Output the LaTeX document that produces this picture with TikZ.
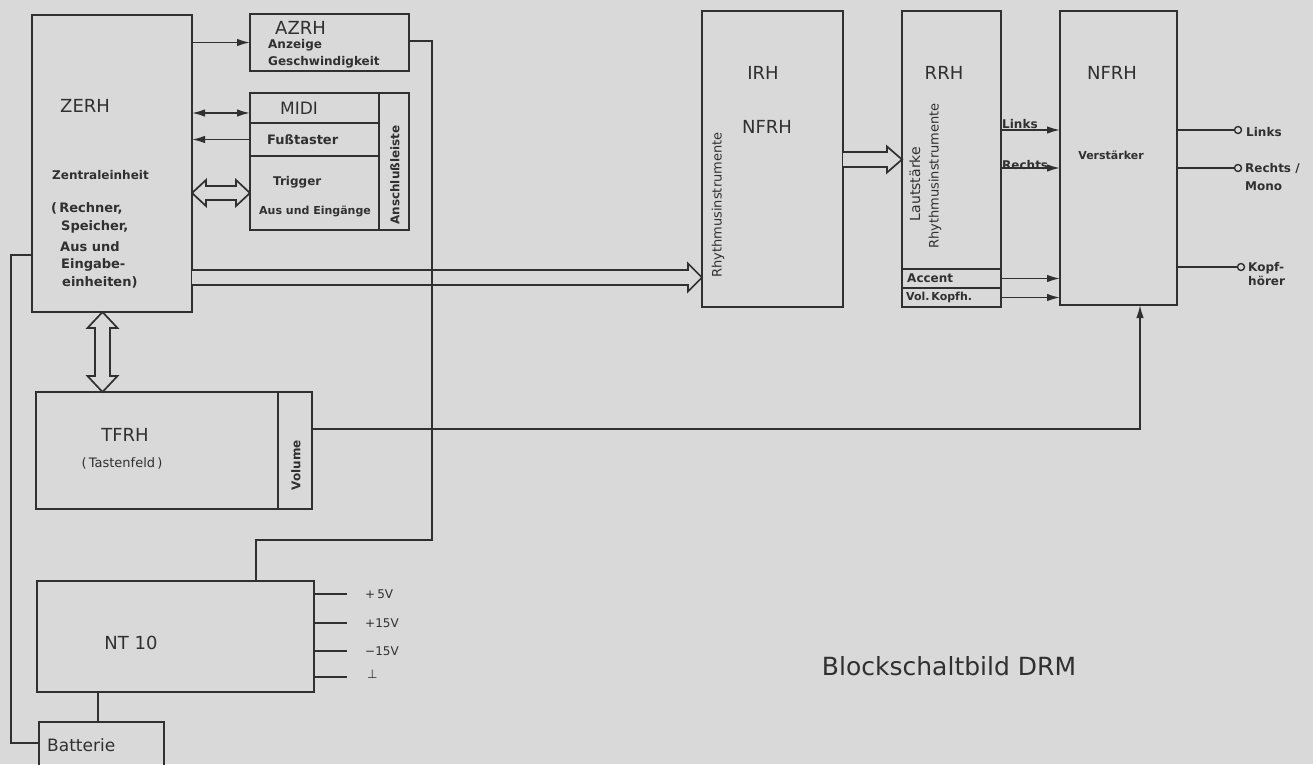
\documentclass[tikz,border=0pt]{standalone}
\usepackage{fontspec}
\setmainfont{DejaVu Sans}
\usetikzlibrary{calc,arrows.meta}
\definecolor{bg}{HTML}{D9D9D9}
\definecolor{ink}{HTML}{303030}
\newcommand\myfs[2]{\fontsize{#1}{#2}\selectfont}
\begin{document}
\begin{tikzpicture}[x=1pt,y=-1pt,
  blk/.style={draw=ink, line width=2.2pt, anchor=north west, inner sep=0pt, outer sep=0pt},
  ln/.style={draw=ink, line width=1.6pt},
  arr/.style={ln, -{Latex[length=13pt,width=7.5pt]}},
  hol/.style={draw=ink, line width=1.7pt, fill=bg, line join=miter},
  txt/.style={text=ink, inner sep=0pt},
  big/.style={txt, font=\myfs{18}{20}},
  sm/.style={txt, font=\myfs{13}{15}},
  smb/.style={txt, font=\myfs{12}{14}\bfseries},
  md/.style={txt, font=\myfs{13}{15}\bfseries},
  tiny/.style={txt, font=\myfs{12}{14}},
  term/.style={circle, draw=ink, line width=1.4pt, minimum size=7pt, inner sep=0pt, fill=bg},
]
\fill[bg] (0,0) rectangle (1313,764);
\useasboundingbox (0,0) rectangle (1313,764);

% ---------- blocks ----------
\node[blk, minimum width=160pt, minimum height=297pt] (zerh) at (32,15) {};
\node[blk, minimum width=159pt, minimum height=57pt] (azrh) at (250,14) {};
\node[blk, minimum width=129pt, minimum height=30pt] (midi) at (250,93) {};
\node[blk, minimum width=129pt, minimum height=33pt] (fuss) at (250,123) {};
\node[blk, minimum width=129pt, minimum height=74pt] (trig) at (250,156) {};
\node[blk, minimum width=30pt, minimum height=137pt] (ansch) at (379,93) {};
\node[blk, minimum width=141pt, minimum height=296pt] (irh) at (702,11) {};
\node[blk, minimum width=99pt, minimum height=258pt] (rrh) at (902,11) {};
\node[blk, minimum width=99pt, minimum height=19pt] (acc) at (902,269) {};
\node[blk, minimum width=99pt, minimum height=19pt] (volk) at (902,288) {};
\node[blk, minimum width=117pt, minimum height=294pt] (nfrh) at (1060,11) {};
\node[blk, minimum width=242pt, minimum height=117pt] (tfrh) at (36,392) {};
\node[blk, minimum width=34pt, minimum height=117pt] (volb) at (278,392) {};
\node[blk, minimum width=277pt, minimum height=111pt] (nt10) at (37,581) {};
\node[blk, minimum width=125pt, minimum height=52pt] (batt) at (39,722) {};

% ---------- texts ----------
\node[big, anchor=west] (tzerh) at (60,106) {ZERH};
\node[smb, anchor=west] (tz1) at (52,175) {Zentraleinheit};
\node[md, anchor=west] (tz2) at (51,208) {(\,Rechner,};
\node[md, anchor=west] (tz3) at (61,227) {Speicher,};
\node[md, anchor=west] (tz4) at (60,247) {Aus und};
\node[md, anchor=west] (tz5) at (61,265) {Eingabe-};
\node[md, anchor=west] (tz6) at (62,282) {einheiten)};

\node[big, anchor=west] (tazrh) at (275,28) {AZRH};
\node[smb, anchor=west] (taz1) at (268,45) {Anzeige};
\node[smb, anchor=west] (taz2) at (268,62) {Geschwindigkeit};
\node[txt, font=\myfs{17}{19}] (tmidi) at (299,108) {MIDI};
\node[md, anchor=west] (tfuss) at (267,140) {Fußtaster};
\node[smb, anchor=west] (ttrig) at (273,182) {Trigger};
\node[txt, font=\myfs{11}{13}\bfseries, anchor=west] (taus) at (259,211) {Aus und Eingänge};
\node[smb, rotate=90] (tansch) at (395,175) {Anschlußleiste};

\node[big] (tirh) at (763,73) {IRH};
\node[big] (tirh2) at (767,127) {NFRH};
\node[sm, rotate=90] (tirh3) at (718,205) {Rhythmusinstrumente};

\node[big] (trrh) at (944,73) {RRH};
\node[txt, font=\myfs{14}{16}, rotate=90] (trr1) at (915,184) {Lautstärke};
\node[sm, rotate=90] (trr2) at (935,176) {Rhythmusinstrumente};
\node[smb, anchor=west] (tacc) at (907,278) {Accent};
\node[txt, font=\myfs{11}{13}\bfseries, anchor=west] (tvol) at (906,297.5) {Vol.\,Kopfh.};

\node[big] (tnfrh) at (1112,73) {NFRH};
\node[txt, font=\myfs{11}{13}\bfseries] (tverst) at (1111,155) {Verstärker};

\node[big] (ttfrh) at (125,435) {TFRH};
\node[sm] (ttast) at (122,463) {(\,Tastenfeld\,)};
\node[smb, rotate=90] (tvolb) at (296,465) {Volume};

\node[big] (tnt) at (131,643) {NT 10};
\node[txt, font=\myfs{17}{19}, anchor=west] (tbatt) at (47,745) {Batterie};

\node[txt, font=\myfs{25}{28}] (title) at (949,666) {Blockschaltbild DRM};

% ---------- ZERH side connectors ----------
\draw[arr] (zerh.east |- azrh.west) -- (azrh.west);
\coordinate (mi) at ($(midi.west)+(0,5)$);
\draw[ln, {Latex[length=13pt,width=7.5pt]}-{Latex[length=13pt,width=7.5pt]}] (zerh.east |- mi) -- (mi);
\draw[arr] (fuss.west) -- (zerh.east |- fuss.west);

% hollow double arrow ZERH <-> Trigger
\coordinate (ta) at (zerh.east |- trig.west);
\coordinate (tb) at (trig.west);
\draw[hol] (ta) -- ($(ta)+(14,-13)$) -- ($(ta)+(14,-7)$) -- ($(tb)+(-14,-7)$) -- ($(tb)+(-14,-13)$) -- (tb)
  -- ($(tb)+(-14,13)$) -- ($(tb)+(-14,7)$) -- ($(ta)+(14,7)$) -- ($(ta)+(14,13)$) -- cycle;

% hollow arrow ZERH -> IRH
\coordinate (zi1) at ($(zerh.south east)+(0,-34.5)$);
\coordinate (zi2) at (irh.west |- zi1);
\draw[hol] ($(zi1)+(0,-7.5)$) -- ($(zi2)+(-14,-7.5)$) -- ($(zi2)+(-14,-14)$) -- (zi2)
  -- ($(zi2)+(-14,14)$) -- ($(zi2)+(-14,7.5)$) -- ($(zi1)+(0,7.5)$);

% hollow arrow IRH -> RRH
\coordinate (ir1) at ($(irh.east)+(0,0.5)$);
\coordinate (ir2) at (rrh.west |- ir1);
\draw[hol] ($(ir1)+(0,-7.5)$) -- ($(ir2)+(-15,-7.5)$) -- ($(ir2)+(-15,-13)$) -- (ir2)
  -- ($(ir2)+(-15,13)$) -- ($(ir2)+(-15,7.5)$) -- ($(ir1)+(0,7.5)$);

% hollow double arrow ZERH <-> TFRH
\coordinate (zt1) at ($(zerh.south west)+(70.5,0)$);
\coordinate (zt2) at (zt1 |- tfrh.north);
\draw[hol] (zt1) -- ($(zt1)+(-15,16)$) -- ($(zt1)+(-7.5,16)$) -- ($(zt2)+(-7.5,-16)$) -- ($(zt2)+(-15,-16)$) -- (zt2)
  -- ($(zt2)+(15,-16)$) -- ($(zt2)+(7.5,-16)$) -- ($(zt1)+(7.5,16)$) -- ($(zt1)+(15,16)$) -- cycle;

% AZRH -> NT10 supply line
\coordinate (ntin) at ($(nt10.north west)+(219,0)$);
\draw[ln] ($(azrh.east)+(0,-1.5)$) -- ++(23,0) |- ($(ntin)+(0,-41)$) -- (ntin);

% ZERH -> Batterie line
\coordinate (zl) at ($(zerh.north west)+(0,240)$);
\coordinate (bl) at ($(batt.north west)+(0,21)$);
\draw[ln] (zl) -- ++(-21,0) |- (bl);

% NT10 -> Batterie
\coordinate (nb) at ($(nt10.south west)+(61,0)$);
\draw[ln] (nb) -- (nb |- batt.north);

% NT10 outputs
\coordinate (o1) at ($(nt10.north east)+(33,13)$);
\coordinate (o2) at ($(nt10.north east)+(33,42)$);
\coordinate (o3) at ($(nt10.north east)+(33,70)$);
\coordinate (o4) at ($(nt10.north east)+(33,96)$);
\draw[ln] (nt10.east |- o1) -- (o1);
\draw[ln] (nt10.east |- o2) -- (o2);
\draw[ln] (nt10.east |- o3) -- (o3);
\draw[ln] (nt10.east |- o4) -- (o4);
\node[tiny, anchor=west] (l1) at ($(o1)+(18,0)$) {+\,5V};
\node[tiny, anchor=west] (l2) at ($(o2)+(18,0)$) {+15V};
\node[tiny, anchor=west] (l3) at ($(o3)+(18,0)$) {−15V};
\node[tiny, anchor=west] (l4) at ($(o4)+(20,-3)$) {⊥};

% RRH -> NFRH
\coordinate (rl) at ($(rrh.north east)+(0,119)$);
\coordinate (rr) at ($(rrh.north east)+(0,157)$);
\draw[arr] (rl) -- (nfrh.west |- rl);
\draw[arr] (rr) -- (nfrh.west |- rr);
\node[smb, anchor=south west, inner sep=1pt] (tlinks) at (rl) {Links};
\node[smb, anchor=south west, inner sep=1pt] (trechts) at ($(rr)+(0,3)$) {Rechts};
\draw[arr] (acc.east) -- (nfrh.west |- acc.east);
\draw[arr] (volk.east) -- (nfrh.west |- volk.east);

% Volume -> NFRH
\coordinate (vo) at ($(volb.north east)+(0,37)$);
\coordinate (ni) at ($(nfrh.south)+(21.5,0)$);
\draw[arr] (vo) -| (ni);

% NFRH outputs
\node[term] (oL) at (1238,130) {};
\node[term] (oR) at (1238,168) {};
\node[term] (oK) at (1241,267) {};
\draw[ln] (nfrh.east |- oL) -- (oL.west);
\draw[ln] (nfrh.east |- oR) -- (oR.west);
\draw[ln] (nfrh.east |- oK) -- (oK.west);
\node[smb, anchor=west] (tL) at (1246,132) {Links};
\node[smb, anchor=north west, align=left, font=\myfs{12}{18}\bfseries] (tR) at (1245,163) {Rechts /\\Mono};
\node[smb, anchor=north west, align=left, font=\myfs{12}{14}\bfseries] (tK) at (1248,262) {Kopf-\\hörer};
\end{tikzpicture}
\end{document}
